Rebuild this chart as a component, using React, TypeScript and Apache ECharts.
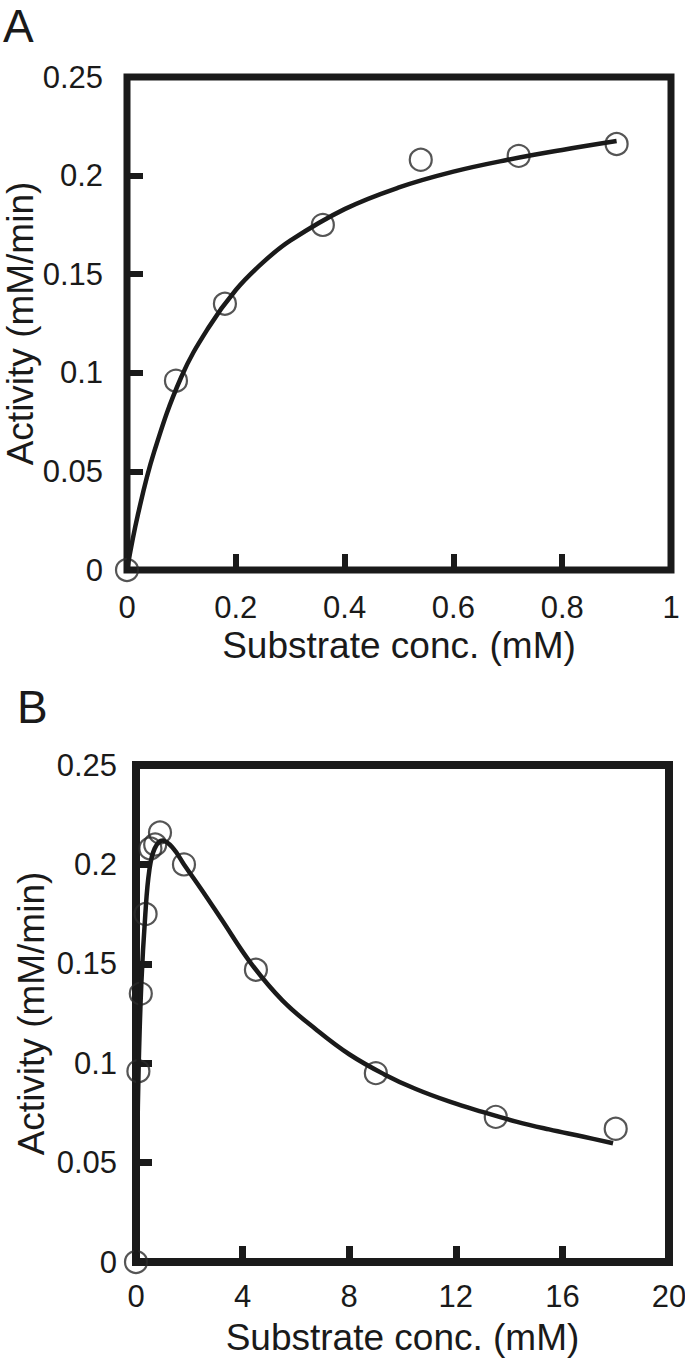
import React, { useEffect, useRef } from "react";
import * as echarts from "echarts";

// Panel A: substrate 0–1 mM
const aConc = [0, 0.09, 0.18, 0.36, 0.54, 0.72, 0.9];
const aActivity = [0, 0.096, 0.135, 0.175, 0.208, 0.21, 0.216];
const aFitConc = [0, 0.02, 0.05, 0.1, 0.15, 0.2, 0.25, 0.3, 0.4, 0.5, 0.6, 0.7, 0.8, 0.9];
const aFitActivity = [0, 0.028, 0.06, 0.098, 0.123, 0.142, 0.156, 0.167, 0.183, 0.194, 0.202, 0.208, 0.213, 0.2175];

// Panel B: substrate 0–20 mM
const bConc = [0, 0.09, 0.18, 0.36, 0.54, 0.72, 0.9, 1.8, 4.5, 9, 13.5, 18];
const bActivity = [0, 0.096, 0.135, 0.175, 0.208, 0.21, 0.216, 0.2, 0.147, 0.095, 0.073, 0.067];
const bFitConc = [0, 0.05, 0.1, 0.2, 0.35, 0.5, 0.7, 1.0, 1.4, 1.8, 2.5, 3.2, 4.3, 5.5, 6.8, 8, 9.3, 10.5, 11.8, 13, 14.3, 15.5, 16.8, 17.9];
const bFitActivity = [0, 0.06, 0.098, 0.14, 0.175, 0.197, 0.208, 0.212, 0.208, 0.2, 0.1865, 0.1725, 0.1505, 0.1315, 0.1165, 0.1045, 0.0945, 0.087, 0.0805, 0.0755, 0.0705, 0.0667, 0.063, 0.0597];

const xTitle = "Substrate conc. (mM)";
const yTitle = "Activity (mM/min)";
const panelLabels = ["A", "B"];

const FONT = "'Liberation Sans', Arial, Helvetica, sans-serif";
const INK = "#1a1a1a";

function zip(xs: number[], ys: number[]) {
  return xs.map((x, i) => [x, ys[i]]);
}

export default function App() {
  const ref = useRef<HTMLDivElement>(null);
  useEffect(() => {
    if (!ref.current) return;
    const chart = echarts.init(ref.current, null, { renderer: "svg" });

    const xAxisCommon = (gridIndex: number, max: number, interval: number, margin: number, lw: number) => ({
      type: "value",
      gridIndex,
      min: 0,
      max,
      interval,
      name: xTitle,
      nameLocation: "middle",
      nameGap: 57,
      nameMoveOverlap: false,
      nameTextStyle: { fontSize: 37, color: INK, fontFamily: FONT },
      axisLine: { show: false },
      axisTick: { show: true, inside: true, length: 16, lineStyle: { color: INK, width: lw - 1 } },
      axisLabel: { fontSize: 31, color: INK, fontFamily: FONT, margin },
      splitLine: { show: false },
    });
    const yAxisCommon = (gridIndex: number, margin: number, nameGap: number, lw: number) => ({
      type: "value",
      gridIndex,
      min: 0,
      max: 0.25,
      interval: 0.05,
      name: yTitle,
      nameLocation: "middle",
      nameGap,
      nameRotate: 90,
      nameMoveOverlap: false,
      nameTextStyle: { fontSize: 37, color: INK, fontFamily: FONT },
      axisLine: { show: false },
      axisTick: { show: true, inside: true, length: 16, lineStyle: { color: INK, width: lw - 1 } },
      axisLabel: { fontSize: 31, color: INK, fontFamily: FONT, margin },
      splitLine: { show: false },
    });

    const scatterStyle = {
      type: "scatter",
      symbol: "circle",
      symbolSize: 22,
      itemStyle: { color: "rgba(0,0,0,0)", borderColor: "#2a2a2a", borderWidth: 2.2 },
      z: 3,
    };
    const lineStyle = {
      type: "line",
      showSymbol: false,
      smooth: 0.4,
      lineStyle: { color: INK, width: 4.5 },
      z: 4,
    };

    chart.setOption({
      animation: false,
      backgroundColor: "#ffffff",
      textStyle: { fontFamily: FONT },
      grid: [
        { left: 127, top: 77, width: 544, height: 493, outerBoundsMode: "none", containLabel: false, show: true, borderColor: INK, borderWidth: 7, backgroundColor: "transparent" },
        { left: 136, top: 765, width: 533, height: 497, outerBoundsMode: "none", containLabel: false, show: true, borderColor: INK, borderWidth: 8, backgroundColor: "transparent" },
      ],
      xAxis: [xAxisCommon(0, 1, 0.2, 22, 7), xAxisCommon(1, 20, 4, 19, 8)],
      yAxis: [yAxisCommon(0, 24, 88, 7), yAxisCommon(1, 19, 86, 8)],
      graphic: [
        { type: "text", left: 3, top: 3, style: { text: panelLabels[0], font: `46px ${FONT}`, fill: INK } },
        { type: "text", left: 17, top: 684, style: { text: panelLabels[1], font: `46px ${FONT}`, fill: INK } },
      ],
      series: [
        { ...scatterStyle, name: "A data", xAxisIndex: 0, yAxisIndex: 0, data: zip(aConc, aActivity) },
        { ...lineStyle, name: "A fit", xAxisIndex: 0, yAxisIndex: 0, data: zip(aFitConc, aFitActivity) },
        { ...scatterStyle, name: "B data", xAxisIndex: 1, yAxisIndex: 1, data: zip(bConc, bActivity) },
        { ...lineStyle, name: "B fit", xAxisIndex: 1, yAxisIndex: 1, data: zip(bFitConc, bFitActivity) },
      ],
    });
    return () => chart.dispose();
  }, []);
  return (
    <div
      ref={ref}
      style={{ position: "absolute", left: 0, top: 0, width: 685, height: 1360 }}
    />
  );
}
